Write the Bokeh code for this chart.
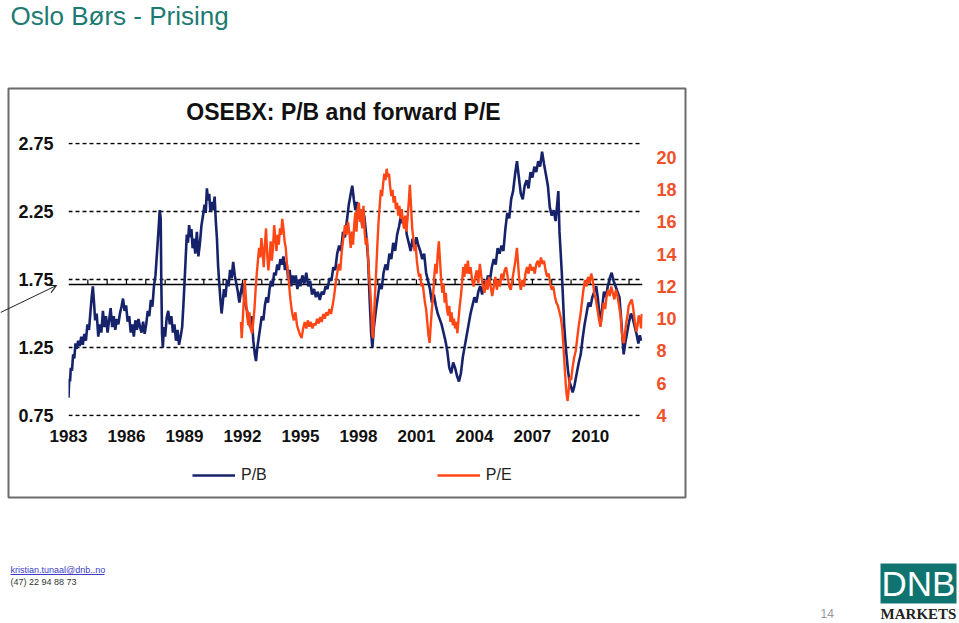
from bokeh.plotting import figure
from bokeh.models import (Range1d, LinearAxis, FixedTicker, Span, Arrow, OpenHead, Legend,
                          LegendItem, PrintfTickFormatter)
from bokeh.core.properties import value
from bokeh.embed import file_html
from bokeh.resources import INLINE

# ---------------- data ----------------
pb_year = [1983.00, 1983.04, 1983.08, 1983.12, 1983.18, 1983.24, 1983.30, 1983.36, 1983.42, 1983.50,
           1983.58, 1983.66, 1983.74, 1983.82, 1983.90, 1983.98, 1984.06, 1984.14, 1984.20, 1984.26,
           1984.32, 1984.38, 1984.46, 1984.54, 1984.62, 1984.70, 1984.78, 1984.86, 1984.94, 1985.02,
           1985.10, 1985.18, 1985.26, 1985.34, 1985.42, 1985.50, 1985.58, 1985.66, 1985.74, 1985.82,
           1985.90, 1985.98, 1986.06, 1986.14, 1986.22, 1986.30, 1986.38, 1986.46, 1986.54, 1986.62,
           1986.70, 1986.78, 1986.86, 1986.94, 1987.02, 1987.10, 1987.18, 1987.26, 1987.34, 1987.42,
           1987.50, 1987.58, 1987.66, 1987.72, 1987.77, 1987.80, 1987.84, 1987.88, 1987.94, 1988.00,
           1988.08, 1988.16, 1988.24, 1988.32, 1988.40, 1988.48, 1988.56, 1988.64, 1988.72, 1988.80,
           1988.88, 1988.94, 1989.00, 1989.06, 1989.12, 1989.18, 1989.24, 1989.30, 1989.36, 1989.42,
           1989.48, 1989.56, 1989.64, 1989.72, 1989.80, 1989.88, 1989.96, 1990.04, 1990.10, 1990.16,
           1990.22, 1990.28, 1990.34, 1990.40, 1990.48, 1990.56, 1990.62, 1990.68, 1990.74, 1990.80,
           1990.86, 1990.92, 1990.98, 1991.04, 1991.12, 1991.20, 1991.28, 1991.36, 1991.44, 1991.52,
           1991.60, 1991.68, 1991.76, 1991.84, 1991.92, 1992.00, 1992.08, 1992.16, 1992.24, 1992.32,
           1992.40, 1992.48, 1992.56, 1992.64, 1992.70, 1992.76, 1992.84, 1992.92, 1993.00, 1993.08,
           1993.16, 1993.24, 1993.32, 1993.40, 1993.48, 1993.56, 1993.64, 1993.72, 1993.80, 1993.88,
           1993.96, 1994.04, 1994.12, 1994.20, 1994.28, 1994.36, 1994.44, 1994.52, 1994.60, 1994.68,
           1994.76, 1994.84, 1994.92, 1995.00, 1995.10, 1995.20, 1995.30, 1995.40, 1995.50, 1995.60,
           1995.70, 1995.80, 1995.90, 1996.00, 1996.10, 1996.20, 1996.30, 1996.40, 1996.50, 1996.60,
           1996.70, 1996.80, 1996.90, 1997.00, 1997.10, 1997.20, 1997.30, 1997.40, 1997.50, 1997.60,
           1997.68, 1997.76, 1997.84, 1997.92, 1998.00, 1998.10, 1998.20, 1998.30, 1998.40, 1998.50,
           1998.58, 1998.66, 1998.72, 1998.80, 1998.90, 1999.00, 1999.10, 1999.20, 1999.30, 1999.40,
           1999.50, 1999.60, 1999.70, 1999.80, 1999.90, 2000.00, 2000.10, 2000.20, 2000.30, 2000.40,
           2000.50, 2000.60, 2000.70, 2000.80, 2000.90, 2001.00, 2001.10, 2001.20, 2001.30, 2001.40,
           2001.50, 2001.60, 2001.70, 2001.80, 2001.90, 2002.00, 2002.10, 2002.20, 2002.30, 2002.40,
           2002.50, 2002.60, 2002.70, 2002.80, 2002.90, 2003.00, 2003.10, 2003.20, 2003.30, 2003.40,
           2003.50, 2003.60, 2003.70, 2003.80, 2003.90, 2004.00, 2004.10, 2004.20, 2004.30, 2004.40,
           2004.50, 2004.60, 2004.70, 2004.80, 2004.90, 2005.00, 2005.10, 2005.20, 2005.30, 2005.40,
           2005.50, 2005.60, 2005.70, 2005.80, 2005.90, 2006.00, 2006.10, 2006.20, 2006.30, 2006.40,
           2006.50, 2006.60, 2006.70, 2006.80, 2006.90, 2007.00, 2007.10, 2007.20, 2007.30, 2007.40,
           2007.50, 2007.60, 2007.70, 2007.80, 2007.90, 2008.00, 2008.10, 2008.20, 2008.28, 2008.34,
           2008.40, 2008.46, 2008.52, 2008.58, 2008.64, 2008.70, 2008.76, 2008.84, 2008.92, 2009.00,
           2009.08, 2009.16, 2009.24, 2009.32, 2009.40, 2009.50, 2009.60, 2009.70, 2009.80, 2009.90,
           2010.00, 2010.10, 2010.20, 2010.30, 2010.38, 2010.46, 2010.54, 2010.62, 2010.70, 2010.80,
           2010.90, 2011.00, 2011.10, 2011.20, 2011.30, 2011.40, 2011.50, 2011.58, 2011.66, 2011.72,
           2011.80, 2011.90, 2012.00, 2012.10, 2012.20, 2012.30, 2012.40, 2012.48, 2012.56, 2012.62]
pb_value = [0.88, 1.02, 1.00, 1.10, 1.08, 1.20, 1.17, 1.28, 1.24, 1.30,
            1.26, 1.33, 1.27, 1.35, 1.30, 1.42, 1.38, 1.52, 1.62, 1.70,
            1.58, 1.45, 1.50, 1.33, 1.42, 1.36, 1.52, 1.40, 1.48, 1.36,
            1.45, 1.54, 1.40, 1.48, 1.38, 1.46, 1.42, 1.50, 1.55, 1.61,
            1.52, 1.56, 1.44, 1.48, 1.36, 1.42, 1.33, 1.45, 1.38, 1.46,
            1.40, 1.36, 1.44, 1.35, 1.42, 1.52, 1.48, 1.60, 1.55, 1.70,
            1.78, 1.95, 2.12, 2.26, 2.20, 1.75, 1.35, 1.25, 1.40, 1.33,
            1.47, 1.52, 1.42, 1.48, 1.36, 1.42, 1.30, 1.38, 1.27, 1.33,
            1.40, 1.55, 1.72, 1.90, 2.08, 2.02, 2.15, 2.06, 2.12, 1.98,
            2.05, 1.94, 2.10, 1.92, 2.02, 2.15, 2.22, 2.30, 2.24, 2.42,
            2.33, 2.38, 2.25, 2.32, 2.26, 2.36, 2.18, 2.05, 1.85, 1.72,
            1.60, 1.50, 1.58, 1.68, 1.62, 1.75, 1.70, 1.82, 1.76, 1.88,
            1.78, 1.72, 1.66, 1.58, 1.66, 1.72, 1.62, 1.56, 1.52, 1.45,
            1.40, 1.48, 1.30, 1.20, 1.15, 1.24, 1.32, 1.40, 1.48, 1.45,
            1.56, 1.62, 1.58, 1.68, 1.74, 1.70, 1.80, 1.78, 1.86, 1.82,
            1.90, 1.86, 1.92, 1.82, 1.88, 1.76, 1.82, 1.70, 1.78, 1.72,
            1.78, 1.68, 1.75, 1.70, 1.78, 1.72, 1.80, 1.70, 1.74, 1.64,
            1.68, 1.62, 1.66, 1.60, 1.66, 1.64, 1.70, 1.68, 1.76, 1.74,
            1.84, 1.82, 1.94, 2.00, 1.96, 2.10, 2.06, 2.18, 2.30, 2.38,
            2.44, 2.34, 2.26, 2.32, 2.20, 2.26, 2.14, 2.22, 2.08, 1.90,
            1.60, 1.35, 1.25, 1.40, 1.52, 1.62, 1.72, 1.68, 1.80, 1.86,
            1.82, 1.94, 1.90, 2.02, 1.96, 2.08, 2.14, 2.22, 2.16, 2.20,
            2.08, 2.02, 1.96, 2.05, 1.98, 2.06, 2.00, 1.96, 1.90, 1.94,
            1.80, 1.74, 1.68, 1.58, 1.64, 1.56, 1.50, 1.46, 1.42, 1.36,
            1.30, 1.22, 1.10, 1.06, 1.14, 1.10, 1.04, 1.00, 1.06, 1.18,
            1.26, 1.34, 1.42, 1.50, 1.56, 1.62, 1.58, 1.66, 1.70, 1.64,
            1.74, 1.70, 1.78, 1.74, 1.84, 1.90, 1.86, 1.98, 1.94, 2.00,
            1.96, 2.12, 2.24, 2.20, 2.34, 2.40, 2.52, 2.62, 2.50, 2.38,
            2.34, 2.44, 2.48, 2.42, 2.54, 2.50, 2.58, 2.54, 2.62, 2.58,
            2.69, 2.60, 2.52, 2.44, 2.28, 2.22, 2.26, 2.18, 2.30, 2.40,
            2.10, 1.95, 1.80, 1.62, 1.42, 1.30, 1.20, 1.08, 1.00, 0.96,
            0.92, 0.96, 1.02, 1.08, 1.14, 1.20, 1.32, 1.42, 1.50, 1.58,
            1.55, 1.62, 1.66, 1.70, 1.62, 1.50, 1.44, 1.56, 1.66, 1.62,
            1.70, 1.76, 1.80, 1.74, 1.70, 1.66, 1.62, 1.48, 1.32, 1.20,
            1.28, 1.36, 1.44, 1.50, 1.46, 1.40, 1.34, 1.28, 1.34, 1.30]

pe_year = [1991.92, 1991.96, 1992.00, 1992.06, 1992.12, 1992.18, 1992.24, 1992.30, 1992.36, 1992.42,
           1992.50, 1992.56, 1992.62, 1992.68, 1992.74, 1992.80, 1992.86, 1992.92, 1992.98, 1993.04,
           1993.10, 1993.16, 1993.22, 1993.28, 1993.34, 1993.40, 1993.46, 1993.52, 1993.58, 1993.64,
           1993.70, 1993.76, 1993.82, 1993.88, 1993.94, 1994.00, 1994.06, 1994.12, 1994.18, 1994.24,
           1994.30, 1994.36, 1994.42, 1994.48, 1994.54, 1994.60, 1994.66, 1994.74, 1994.82, 1994.90,
           1994.98, 1995.06, 1995.14, 1995.22, 1995.30, 1995.38, 1995.46, 1995.54, 1995.62, 1995.70,
           1995.78, 1995.86, 1995.94, 1996.02, 1996.10, 1996.18, 1996.26, 1996.34, 1996.42, 1996.50,
           1996.58, 1996.66, 1996.74, 1996.82, 1996.90, 1996.98, 1997.06, 1997.14, 1997.22, 1997.30,
           1997.38, 1997.46, 1997.54, 1997.60, 1997.66, 1997.72, 1997.78, 1997.84, 1997.90, 1997.96,
           1998.02, 1998.08, 1998.14, 1998.20, 1998.26, 1998.32, 1998.38, 1998.44, 1998.50, 1998.56,
           1998.62, 1998.68, 1998.72, 1998.76, 1998.80, 1998.86, 1998.92, 1998.98, 1999.04, 1999.10,
           1999.16, 1999.22, 1999.28, 1999.34, 1999.40, 1999.46, 1999.52, 1999.58, 1999.64, 1999.70,
           1999.76, 1999.82, 1999.88, 1999.94, 2000.00, 2000.06, 2000.12, 2000.18, 2000.24, 2000.30,
           2000.36, 2000.42, 2000.48, 2000.54, 2000.60, 2000.66, 2000.72, 2000.78, 2000.84, 2000.90,
           2000.96, 2001.02, 2001.08, 2001.14, 2001.20, 2001.26, 2001.32, 2001.38, 2001.44, 2001.50,
           2001.56, 2001.62, 2001.68, 2001.74, 2001.80, 2001.86, 2001.92, 2001.98, 2002.04, 2002.10,
           2002.16, 2002.22, 2002.28, 2002.34, 2002.40, 2002.46, 2002.52, 2002.58, 2002.64, 2002.70,
           2002.76, 2002.82, 2002.88, 2002.94, 2003.00, 2003.06, 2003.12, 2003.18, 2003.24, 2003.30,
           2003.36, 2003.42, 2003.48, 2003.54, 2003.60, 2003.66, 2003.72, 2003.80, 2003.88, 2003.96,
           2004.04, 2004.12, 2004.20, 2004.28, 2004.36, 2004.44, 2004.52, 2004.60, 2004.68, 2004.76,
           2004.84, 2004.92, 2005.00, 2005.08, 2005.16, 2005.24, 2005.32, 2005.40, 2005.48, 2005.56,
           2005.64, 2005.72, 2005.80, 2005.88, 2005.96, 2006.04, 2006.12, 2006.20, 2006.26, 2006.32,
           2006.40, 2006.48, 2006.56, 2006.64, 2006.72, 2006.80, 2006.88, 2006.96, 2007.04, 2007.12,
           2007.20, 2007.28, 2007.36, 2007.44, 2007.52, 2007.60, 2007.68, 2007.76, 2007.84, 2007.92,
           2008.00, 2008.08, 2008.16, 2008.24, 2008.32, 2008.40, 2008.48, 2008.54, 2008.60, 2008.66,
           2008.72, 2008.78, 2008.82, 2008.88, 2008.94, 2009.00, 2009.08, 2009.16, 2009.24, 2009.32,
           2009.40, 2009.48, 2009.56, 2009.64, 2009.72, 2009.80, 2009.88, 2009.96, 2010.04, 2010.12,
           2010.20, 2010.28, 2010.36, 2010.44, 2010.52, 2010.60, 2010.68, 2010.76, 2010.84, 2010.92,
           2011.00, 2011.08, 2011.16, 2011.24, 2011.32, 2011.40, 2011.48, 2011.56, 2011.62, 2011.68,
           2011.74, 2011.80, 2011.86, 2011.92, 2011.98, 2012.06, 2012.14, 2012.22, 2012.30, 2012.38,
           2012.44, 2012.50, 2012.56, 2012.62, 2012.66]
pe_value = [9.8, 8.8, 9.6, 11.0, 12.4, 11.2, 10.2, 9.6, 10.4, 9.4,
            9.1, 9.8, 10.6, 11.8, 12.8, 13.6, 14.4, 13.8, 15.0, 14.2,
            13.2, 14.6, 15.6, 14.0, 13.0, 13.8, 14.8, 13.6, 14.4, 15.8,
            15.0, 14.2, 15.2, 14.6, 15.6, 15.2, 16.2, 15.6, 14.8, 14.4,
            13.4, 12.8, 12.0, 11.2, 10.6, 10.2, 9.9, 10.4, 9.6, 9.3,
            9.0, 8.8, 9.4, 9.8, 9.4, 9.9, 9.5, 9.8, 9.4, 9.7,
            9.6, 10.0, 9.7, 10.1, 9.8, 10.3, 10.0, 10.4, 10.2, 10.6,
            10.3, 10.8, 11.4, 12.2, 12.8, 13.4, 13.0, 14.2, 15.0, 15.8,
            15.2, 16.0, 15.2, 14.4, 15.4, 14.6, 15.8, 16.6, 15.4, 16.8,
            17.2, 16.0, 16.8, 15.6, 17.0, 15.4, 14.6, 15.0, 13.8, 12.6,
            11.6, 10.2, 9.0, 8.8, 10.0, 11.6, 13.0, 14.6, 16.0, 17.0,
            18.0, 17.6, 18.4, 19.0, 18.6, 19.3, 18.8, 19.0, 18.2, 17.6,
            18.0, 17.2, 17.6, 16.8, 17.2, 16.4, 17.0, 16.2, 16.8, 16.0,
            15.6, 16.4, 15.4, 16.2, 17.2, 18.3, 17.0, 15.6, 15.0, 14.2,
            14.6, 13.6, 13.0, 12.6, 12.8, 12.0, 12.2, 11.6, 11.0, 10.6,
            9.8, 9.0, 8.5, 9.6, 10.6, 11.4, 12.6, 13.4, 12.8, 14.0,
            14.8, 13.6, 12.4, 11.6, 12.2, 11.0, 11.6, 10.6, 10.2, 10.8,
            9.8, 10.4, 9.6, 10.0, 9.4, 9.8, 9.1, 10.0, 10.8, 11.4,
            12.2, 13.2, 12.6, 13.4, 12.8, 13.6, 12.8, 13.2, 12.4, 12.0,
            12.6, 13.0, 12.2, 13.4, 12.6, 12.0, 11.6, 12.4, 11.8, 12.6,
            12.0, 11.4, 12.0, 12.6, 11.8, 12.4, 12.0, 12.8, 12.4, 13.0,
            13.2, 12.6, 12.0, 11.8, 12.4, 13.0, 13.6, 14.4, 13.4, 12.4,
            11.8, 12.4, 12.0, 12.8, 13.2, 12.8, 13.4, 13.0, 13.2, 12.8,
            13.4, 13.6, 13.2, 13.8, 13.4, 13.6, 13.0, 12.6, 12.8, 12.2,
            11.8, 12.0, 11.4, 11.0, 10.8, 10.4, 10.0, 9.4, 8.4, 7.2,
            6.0, 5.2, 4.9, 5.6, 6.4, 6.2, 7.0, 7.6, 8.0, 8.8,
            9.6, 10.2, 11.0, 11.8, 12.4, 12.0, 12.6, 12.2, 12.8, 12.4,
            11.6, 11.2, 10.6, 10.0, 9.5, 10.2, 11.0, 10.6, 11.4, 11.8,
            11.4, 12.0, 11.6, 11.2, 11.8, 11.4, 10.8, 10.2, 9.2, 8.6,
            8.5, 9.2, 9.8, 10.2, 10.8, 11.0, 11.2, 10.6, 9.8, 9.2,
            9.6, 10.2, 10.0, 9.4, 10.3]

pb_ticks = [0.75, 1.25, 1.75, 2.25, 2.75]
pe_ticks = [4, 6, 8, 10, 12, 14, 16, 18, 20]
year_ticks = [1983, 1986, 1989, 1992, 1995, 1998, 2001, 2004, 2007, 2010]
pb_average = 1.713
axis_tick_years = list(range(1984, 2013))

slide_title = "Oslo Børs - Prising"
chart_title = "OSEBX: P/B and forward P/E"
series_names = ["P/B", "P/E"]
contact_mail = "kristian.tunaal@dnb..no"
contact_phone = "(47) 22 94 88 73"
page_number = "14"

# ---------------- styles ----------------
NAVY = "#16236b"
ORANGE = "#ff4716"
ORANGE_TXT = "#f0502a"
TEAL = "#1d7a72"
LOGO = "#0f7470"
FONT = "Liberation Sans"
W, H = 957, 621

# ---------------- chart ----------------
p = figure(width=W, height=H, output_backend="svg", toolbar_location=None, title=None,
           x_range=Range1d(1983, 2012.695), y_range=Range1d(0.7426, 2.7574),
           min_border_left=68, min_border_right=W - 642, min_border_top=142,
           min_border_bottom=H - 416)
p.extra_y_ranges = {"pe": Range1d(3.938, 20.93)}
p.outline_line_color = None
p.background_fill_color = "white"
p.border_fill_color = "white"

right_axis = LinearAxis(y_range_name="pe")
p.add_layout(right_axis, "right")

for ax in (p.xaxis[0], p.yaxis[0], right_axis):
    ax.axis_line_color = None
    ax.major_tick_line_color = None
    ax.minor_tick_line_color = None
    ax.major_tick_out = 0
    ax.major_tick_in = 0
    ax.major_label_text_font = FONT
    ax.major_label_text_font_style = "bold"

p.yaxis[0].ticker = FixedTicker(ticks=pb_ticks)
p.yaxis[0].formatter = PrintfTickFormatter(format="%.2f")
p.yaxis[0].major_label_standoff = 15
p.yaxis[0].major_label_text_font_size = "18px"
p.yaxis[0].major_label_text_color = "#111111"

right_axis.ticker = FixedTicker(ticks=pe_ticks)
right_axis.major_label_standoff = 14
right_axis.major_label_text_font_size = "18px"
right_axis.major_label_text_color = ORANGE_TXT

p.xaxis[0].ticker = FixedTicker(ticks=year_ticks)
p.xaxis[0].formatter = PrintfTickFormatter(format="%d")
p.xaxis[0].major_label_standoff = 13
p.xaxis[0].major_label_text_font_size = "17px"
p.xaxis[0].major_label_text_color = "#111111"

p.xgrid.visible = False
p.ygrid.ticker = FixedTicker(ticks=pb_ticks)
p.ygrid.grid_line_color = "black"
p.ygrid.grid_line_dash = "4 3"
p.ygrid.grid_line_width = 1.4

p.add_layout(Span(location=pb_average, dimension="width", line_color="black",
                  line_width=1.5, level="underlay"))
p.segment(x0=axis_tick_years, y0=[pb_average] * len(axis_tick_years),
          x1=axis_tick_years, y1=[pb_average + 0.037] * len(axis_tick_years),
          line_color="black", line_width=1.2)

p.line(pb_year, pb_value, line_color=NAVY, line_width=2.6)
p.line(pe_year, pe_value, line_color=ORANGE, line_width=2.4, y_range_name="pe")

# ---------------- slide overlay (pixel coordinates, y downwards) ----------------
ov = figure(width=W, height=H, output_backend="svg", toolbar_location=None, title=None,
            x_range=Range1d(0, W), y_range=Range1d(H, 0), min_border=0,
            x_axis_location=None, y_axis_location=None)
ov.grid.visible = False
ov.outline_line_color = None
ov.background_fill_alpha = 0
ov.border_fill_alpha = 0
ov.margin = (-H, 0, 0, 0)

def txt(x, y_mid, text, size, color, style="normal", align="left", font=FONT):
    ov.text(x=[x], y=[y_mid], text=[text], text_font=value(font), text_font_size=size,
            text_color=color, text_font_style=style, text_align=align,
            text_baseline="middle")

# chart picture frame
ov.quad(left=[8], right=[685], top=[88], bottom=[497], fill_alpha=0,
        line_color="#6b6b6b", line_width=2)

txt(10, 15, slide_title, "26px", TEAL)
txt(343, 111, chart_title, "23px", "#111111", style="bold", align="center")

# legend (sample lines live in the overlay; data lines are in the chart)
lg_pb = ov.line(x=[float("nan")], y=[float("nan")], line_color=NAVY, line_width=2.6)
lg_pe = ov.line(x=[float("nan")], y=[float("nan")], line_color=ORANGE, line_width=2.4)
legend = Legend(items=[LegendItem(label=series_names[0], renderers=[lg_pb]),
                       LegendItem(label=series_names[1], renderers=[lg_pe])],
                orientation="horizontal", location=(192, H - 485),
                glyph_width=43, glyph_height=20, label_height=20, label_standoff=6,
                spacing=170, padding=0, margin=0, border_line_color=None,
                background_fill_alpha=0, label_text_font=FONT,
                label_text_font_size="16px", label_text_color="#222222")
ov.add_layout(legend)

# arrow pointing at the average line
ov.add_layout(Arrow(x_start=0, y_start=312, x_end=56, y_end=285, line_width=1,
                    line_color="#222222",
                    end=OpenHead(size=8, line_width=1.2, line_color="#222222")))

# footer
txt(10, 569, contact_mail, "9px", "#3b3bc8")
ov.segment(x0=[10], y0=[574], x1=[104], y1=[574], line_color="#3b3bc8", line_width=1)
txt(10, 581, contact_phone, "9px", "#333333")
txt(820, 613, page_number, "12px", "#999999")

# DNB logo
ov.quad(left=[880], right=[956], top=[563], bottom=[603], fill_color=LOGO, line_alpha=0)
txt(918, 583, "DNB", "35px", "white", align="center")
txt(918, 613, "MARKETS", "15px", "#222222", style="bold", align="center",
    font="Liberation Serif")

open("out.html", "w").write(file_html([p, ov], INLINE))
